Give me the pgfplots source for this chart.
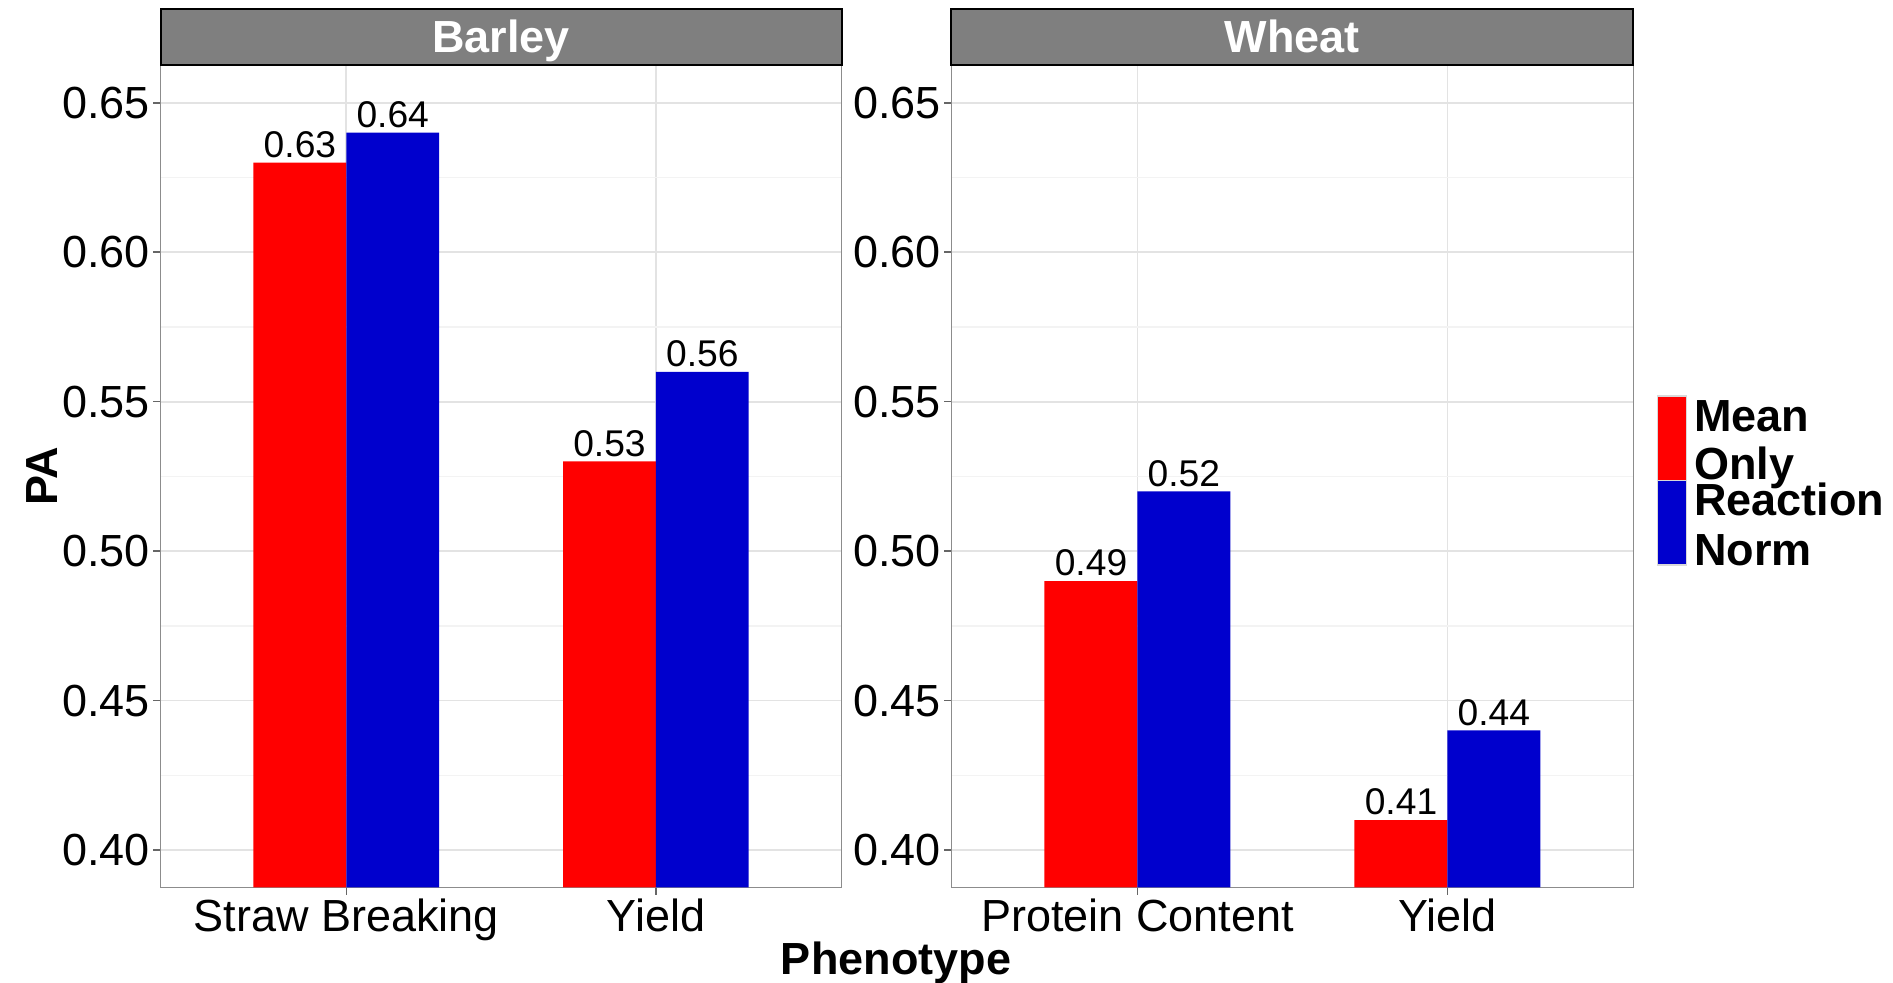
\documentclass[border=0pt]{standalone}
\usepackage{pgfplots}
\pgfplotsset{compat=1.18}
\usepackage{fontspec}
\setmainfont{Liberation Sans}
\definecolor{myred}{HTML}{FF0000}
\definecolor{myblue}{HTML}{0000CD}
\definecolor{gridmaj}{HTML}{E3E3E3}
\definecolor{gridmin}{HTML}{F3F3F3}
\definecolor{stripgray}{HTML}{7F7F7F}
\newcommand{\tickfont}{\fontsize{22.5}{27}\selectfont}
\newcommand{\barfont}{\fontsize{18.6}{22}\selectfont}
\pgfplotsset{
  facet/.style={
    scale only axis, height=411pt,
    xmin=0.4, xmax=2.6, ymin=0.3875, ymax=0.6625,
    xtick={1,2},
    ytick={0.40,0.45,0.50,0.55,0.60,0.65},
    minor ytick={0.425,0.475,0.525,0.575,0.625},
    yticklabel style={/pgf/number format/fixed,/pgf/number format/precision=2,/pgf/number format/fixed zerofill},
    /pgf/number format/assume math mode=true,
    ticklabel style={font=\tickfont, text=black},
    yticklabel style={inner sep=1.5pt},
    xticklabel style={inner sep=2pt},
    xmajorgrids, ymajorgrids, yminorgrids,
    major grid style={gridmaj, line width=0.9pt},
    minor grid style={gridmin, line width=0.7pt},
    axis line style={black!45, line width=0.8pt},
    major tick style={black!60, line width=0.8pt},
    major tick length=3.6pt, minor tick length=0pt,
    tick align=outside,
    xtick pos=bottom, ytick pos=left,
    nodes near coords,
    nodes near coords style={font=\barfont, text=black, anchor=south, inner sep=2.2pt,
      /pgf/number format/fixed,/pgf/number format/precision=2,/pgf/number format/fixed zerofill},
  },
  redbar/.style={ybar, bar width=0.3, bar shift=-0.15, fill=myred, draw=none,
    every node near coord/.append style={xshift=-23.2pt}},
  bluebar/.style={ybar, bar width=0.3, bar shift=0.15, fill=myblue, draw=none,
    every node near coord/.append style={xshift=23.2pt}},
}
\begin{document}
\begin{tikzpicture}
\useasboundingbox (0,0) rectangle (946.5pt,-491.5pt);

% Barley panel
\begin{axis}[facet, name=left, width=340.5pt, at={(80.3pt,-443.7pt)}, anchor=south west,
  xticklabels={Straw Breaking, Yield}]
\addplot[redbar] coordinates {(1,0.63) (2,0.53)};
\addplot[bluebar] coordinates {(1,0.64) (2,0.56)};
\end{axis}

% Wheat panel
\begin{axis}[facet, name=right, width=341pt, at={(475.7pt,-443.7pt)}, anchor=south west,
  xticklabels={Protein Content, Yield}]
\addplot[redbar] coordinates {(1,0.49) (2,0.41)};
\addplot[bluebar] coordinates {(1,0.52) (2,0.44)};
\end{axis}

% strips
\draw[fill=stripgray, draw=black, line width=1pt] (left.north west) rectangle ([yshift=28.35pt]left.north east);
\node[anchor=base, text=white, font=\bfseries\tickfont] at ([yshift=6.5pt]left.north) {Barley};
\draw[fill=stripgray, draw=black, line width=1pt] (right.north west) rectangle ([yshift=28.35pt]right.north east);
\node[anchor=base, text=white, font=\bfseries\tickfont] at ([yshift=6.5pt]right.north) {Wheat};

% axis titles
\node[rotate=90, font=\bfseries\tickfont] at (21pt,-238.1pt) {PA};
\node[font=\bfseries\tickfont] at (448pt,-481.3pt) {Phenotype};

% legend
\fill[myred, draw=black!15, line width=0.6pt] (828.8pt,-198pt) rectangle (843.3pt,-240.25pt);
\fill[myblue, draw=black!15, line width=0.6pt] (828.8pt,-240.25pt) rectangle (843.3pt,-282.5pt);
\node[anchor=base west, inner sep=0pt, font=\bfseries\tickfont] at (847pt,-216pt) {Mean};
\node[anchor=base west, inner sep=0pt, font=\bfseries\tickfont] at (847pt,-239.7pt) {Only};
\node[anchor=base west, inner sep=0pt, font=\bfseries\tickfont] at (847pt,-257.8pt) {Reaction};
\node[anchor=base west, inner sep=0pt, font=\bfseries\tickfont] at (847pt,-282.5pt) {Norm};
\end{tikzpicture}
\end{document}
